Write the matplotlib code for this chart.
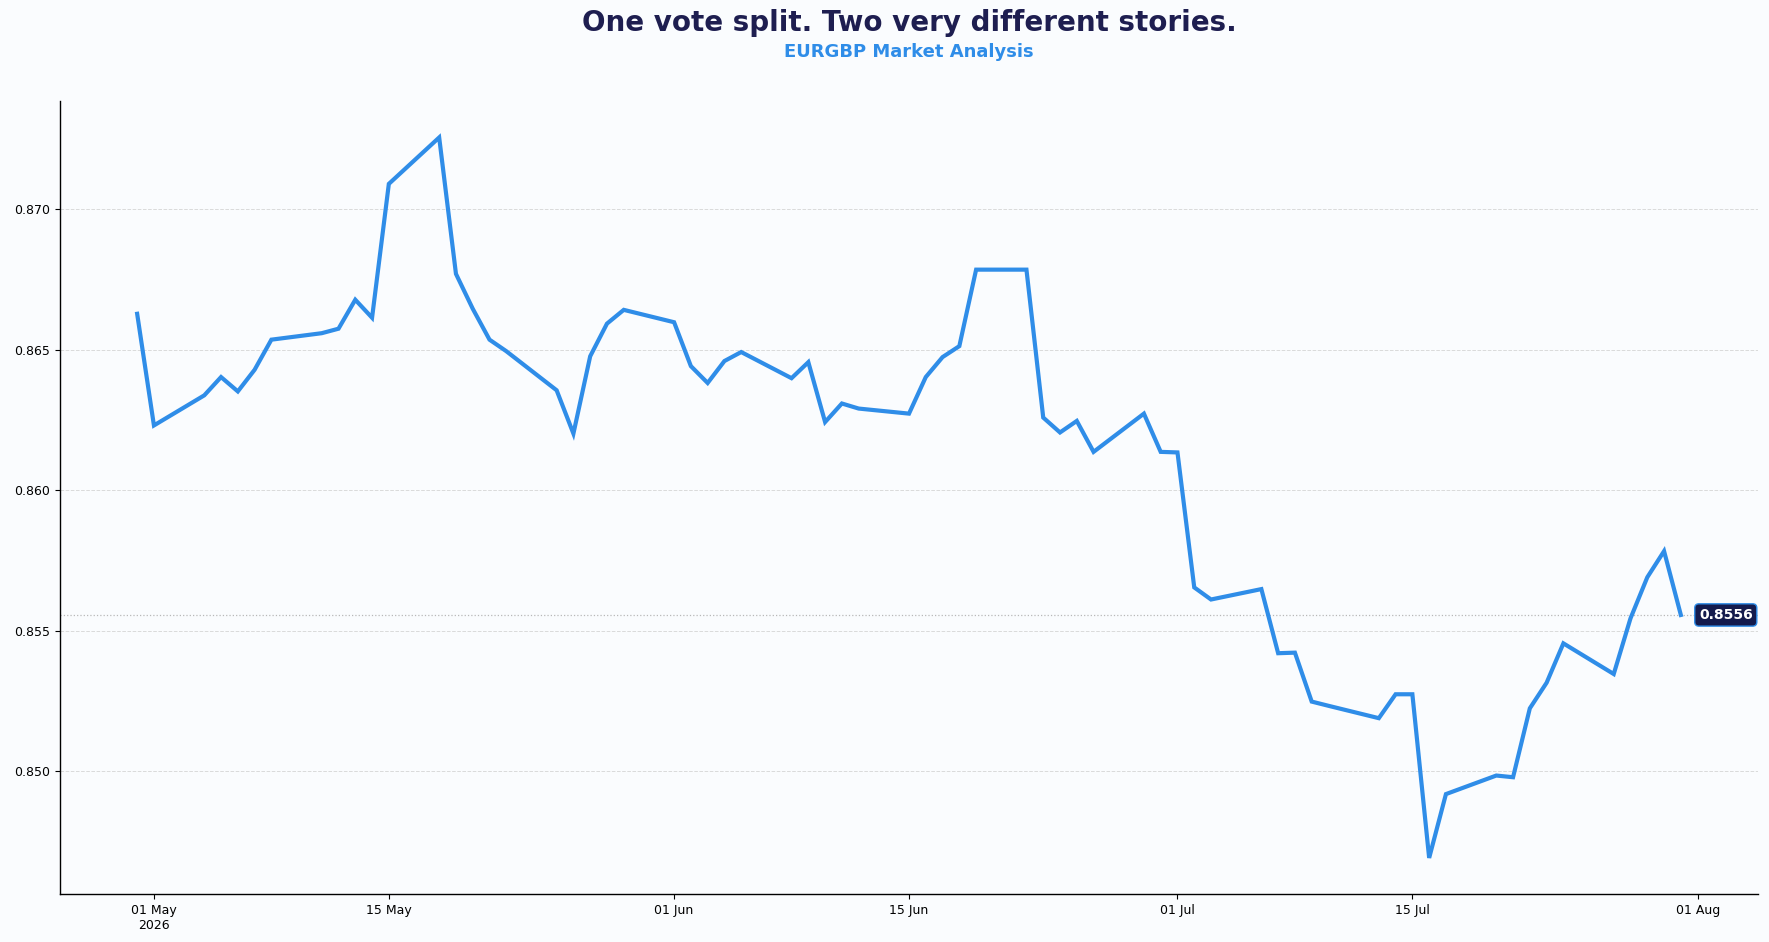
import matplotlib
matplotlib.use("Agg")
import matplotlib.pyplot as plt
import matplotlib.dates as mdates
import matplotlib.ticker as mticker
import matplotlib.transforms as mtransforms
import pandas as pd

# ---- data ----
dates = pd.to_datetime([
    "2026-04-30", "2026-05-01", "2026-05-04", "2026-05-05", "2026-05-06", "2026-05-07", "2026-05-08",
    "2026-05-11", "2026-05-12", "2026-05-13", "2026-05-14", "2026-05-15",
    "2026-05-18", "2026-05-19", "2026-05-20", "2026-05-21", "2026-05-22",
    "2026-05-25", "2026-05-26", "2026-05-27", "2026-05-28", "2026-05-29",
    "2026-06-01", "2026-06-02", "2026-06-03", "2026-06-04", "2026-06-05",
    "2026-06-08", "2026-06-09", "2026-06-10", "2026-06-11", "2026-06-12",
    "2026-06-15", "2026-06-16", "2026-06-17", "2026-06-18", "2026-06-19",
    "2026-06-22", "2026-06-23", "2026-06-24", "2026-06-25", "2026-06-26",
    "2026-06-29", "2026-06-30", "2026-07-01", "2026-07-02", "2026-07-03",
    "2026-07-06", "2026-07-07", "2026-07-08", "2026-07-09", "2026-07-10",
    "2026-07-13", "2026-07-14", "2026-07-15", "2026-07-16", "2026-07-17",
    "2026-07-20", "2026-07-21", "2026-07-22", "2026-07-23", "2026-07-24",
    "2026-07-27", "2026-07-28", "2026-07-29", "2026-07-30", "2026-07-31",
])
prices = [
    0.86627, 0.86230, 0.86337, 0.86402, 0.86351, 0.86428, 0.86535,
    0.86558, 0.86574, 0.86677, 0.86613, 0.87089,
    0.87254, 0.86769, 0.86645, 0.86535, 0.86494,
    0.86355, 0.86201, 0.86476, 0.86592, 0.86641,
    0.86597, 0.86441, 0.86381, 0.86459, 0.86491,
    0.86398, 0.86455, 0.86242, 0.86308, 0.86290,
    0.86272, 0.86402, 0.86473, 0.86512, 0.86784,
    0.86784, 0.86258, 0.86205, 0.86246, 0.86136,
    0.86272, 0.86136, 0.86134, 0.85654, 0.85611,
    0.85648, 0.85420, 0.85422, 0.85248, 0.85233,
    0.85189, 0.85274, 0.85274, 0.84692, 0.84919,
    0.84985, 0.84979, 0.85224, 0.85315, 0.85455,
    0.85346, 0.85544, 0.85690, 0.85783, 0.85556,
]
tick_dates = pd.to_datetime(["2026-05-01", "2026-05-15", "2026-06-01", "2026-06-15",
                             "2026-07-01", "2026-07-15", "2026-08-01"])
tick_labels = ["01 May\n2026", "15 May", "01 Jun", "15 Jun", "01 Jul", "15 Jul", "01 Aug"]
title = "One vote split. Two very different stories."
subtitle = "EURGBP Market Analysis"
last_label = "0.8556"

# ---- style ----
BG = "#FAFCFE"
BLUE = "#2F8DE8"
NAVY = "#1E1E50"

fig = plt.figure(figsize=(17.69, 9.42), dpi=100, facecolor=BG)
ax = fig.add_axes([0.0339, 0.051, 0.9599, 0.8413])
ax.set_facecolor(BG)

ax.plot(dates, prices, color=BLUE, linewidth=3.0, solid_joinstyle="miter", zorder=3)

last_date, last_price = dates[-1], prices[-1]
ax.axhline(last_price, color="#B8B8B8", linestyle=":", linewidth=0.9, zorder=1)
ax.annotate(last_label, xy=(mdates.date2num(last_date), last_price), xytext=(13, 0),
            textcoords="offset points", ha="left", va="center", color="white",
            fontsize=10, fontweight="bold",
            bbox=dict(boxstyle="round,pad=0.3", facecolor="#141B4D", edgecolor=BLUE, linewidth=1.0),
            zorder=5)

ax.yaxis.set_major_locator(mticker.MultipleLocator(0.005))
ax.yaxis.set_major_formatter(mticker.FormatStrFormatter("%.3f"))
ax.grid(axis="y", color="#DADADA", linestyle="--", linewidth=0.7)
ax.grid(axis="x", visible=False)

ax.set_xticks(mdates.date2num(tick_dates))
ax.set_xticklabels(tick_labels)
ax.tick_params(axis="both", labelsize=9, colors="black", length=3.5)

for s in ["top", "right"]:
    ax.spines[s].set_visible(False)
for s in ["left", "bottom"]:
    ax.spines[s].set_color("black")
    ax.spines[s].set_linewidth(1.0)

blend = mtransforms.blended_transform_factory(ax.transAxes, fig.transFigure)
ax.text(0.5, 1 - 22.6 / 942, title, transform=blend,
        ha="center", va="center", fontsize=20, fontweight="bold", color=NAVY)
ax.text(0.5, 1 - 52 / 942, subtitle, transform=blend,
        ha="center", va="center", fontsize=13, fontweight="bold", color=BLUE)

fig.savefig("out.png", dpi=100, facecolor=BG)
